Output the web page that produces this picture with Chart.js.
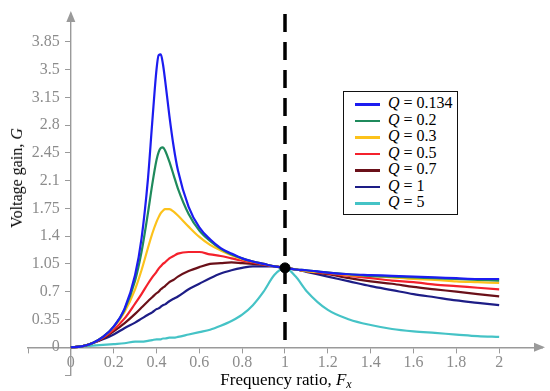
<!DOCTYPE html>
<html>
<head>
<meta charset="utf-8">
<script src="https://cdn.jsdelivr.net/npm/chart.js@4.4.1/dist/chart.umd.min.js"></script>
<style>
  body { margin: 0; background: #fff; }
  #wrap { position: relative; width: 550px; height: 391px; font-family: "Liberation Serif", serif; color: #000; }
  #xtitle { position: absolute; left: 286px; top: 370px; transform: translateX(-50%); white-space: nowrap; font-size: 17px; line-height: 20px; }
  #xtitle sub { font-size: 12px; line-height: 0; vertical-align: -3px; }
  #ytitle { position: absolute; left: 17px; top: 178px; transform: translate(-50%, -50%) rotate(-90deg); white-space: nowrap; font-size: 16px; line-height: 20px; }
  #legend { position: absolute; left: 343px; top: 91px; width: 113px; height: 119px; border: 1.5px solid #111; background: #fff; padding-top: 3px; }
  #legend .row { height: 16.5px; line-height: 16.5px; font-size: 16px; white-space: nowrap; }
  #legend .swatch { display: inline-block; width: 25px; height: 2.5px; margin-left: 11px; margin-right: 8px; vertical-align: middle; }
</style>
</head>
<body>
<div id="wrap">
  <canvas id="chart" width="550" height="391"></canvas>
  <div id="xtitle">Frequency ratio, <i>F<sub>x</sub></i></div>
  <div id="ytitle">Voltage gain, <i>G</i></div>
  <div id="legend"></div>
</div>
<script>
// frequency ratio samples (denser around the resonance peaks)
const fx = [0, 0.05, 0.1, 0.15, 0.2, 0.25, 0.3, 0.33, 0.36, 0.38, 0.4, 0.41, 0.42, 0.43, 0.44, 0.46, 0.48, 0.5,
  0.55, 0.6, 0.65, 0.7, 0.75, 0.8, 0.85, 0.9, 0.95, 1, 1.05, 1.1, 1.2, 1.3, 1.4, 1.5, 1.6, 1.7, 1.8, 1.9, 2];

// voltage gain for each quality factor
const gainQ0134 = [0, 0.01, 0.05, 0.13, 0.26, 0.48, 0.91, 1.37, 2.12, 2.83, 3.50, 3.68, 3.69, 3.57, 3.37, 2.92, 2.53, 2.23,
  1.77, 1.51, 1.36, 1.25, 1.18, 1.12, 1.08, 1.05, 1.02, 1.00, 0.98, 0.97, 0.94, 0.92, 0.91, 0.90, 0.89, 0.88, 0.87, 0.86, 0.86];
const gainQ02 = [0, 0.01, 0.05, 0.13, 0.26, 0.47, 0.84, 1.20, 1.69, 2.05, 2.36, 2.46, 2.51, 2.52, 2.48, 2.34, 2.17, 2.00,
  1.68, 1.47, 1.34, 1.24, 1.17, 1.12, 1.08, 1.05, 1.02, 1.00, 0.98, 0.97, 0.94, 0.92, 0.90, 0.89, 0.88, 0.87, 0.86, 0.85, 0.84];
const gainQ03 = [0, 0.01, 0.05, 0.13, 0.25, 0.44, 0.73, 0.97, 1.25, 1.43, 1.58, 1.64, 1.69, 1.72, 1.74, 1.74, 1.71, 1.66,
  1.52, 1.39, 1.29, 1.22, 1.16, 1.11, 1.08, 1.05, 1.02, 1.00, 0.98, 0.96, 0.94, 0.91, 0.90, 0.88, 0.86, 0.85, 0.83, 0.82, 0.81];
const gainQ05 = [0, 0.01, 0.05, 0.12, 0.22, 0.36, 0.55, 0.67, 0.80, 0.88, 0.95, 0.99, 1.02, 1.05, 1.07, 1.12, 1.15, 1.18,
  1.20, 1.20, 1.17, 1.15, 1.12, 1.09, 1.07, 1.04, 1.02, 1.00, 0.98, 0.96, 0.93, 0.90, 0.87, 0.84, 0.82, 0.79, 0.77, 0.75, 0.73];
const gainQ07 = [0, 0.01, 0.05, 0.11, 0.20, 0.30, 0.42, 0.50, 0.58, 0.63, 0.68, 0.70, 0.73, 0.75, 0.77, 0.82, 0.85, 0.89,
  0.96, 1.01, 1.05, 1.06, 1.07, 1.06, 1.05, 1.04, 1.02, 1.00, 0.98, 0.96, 0.92, 0.87, 0.83, 0.80, 0.76, 0.73, 0.70, 0.67, 0.64];
const gainQ1 = [0, 0.01, 0.05, 0.10, 0.16, 0.24, 0.31, 0.36, 0.41, 0.44, 0.48, 0.49, 0.51, 0.53, 0.54, 0.58, 0.61, 0.64,
  0.73, 0.80, 0.87, 0.93, 0.97, 1.00, 1.02, 1.02, 1.02, 1.00, 0.98, 0.95, 0.89, 0.83, 0.77, 0.72, 0.67, 0.63, 0.59, 0.56, 0.53];
const gainQ5 = [0, 0.01, 0.02, 0.03, 0.04, 0.05, 0.07, 0.07, 0.08, 0.09, 0.10, 0.10, 0.10, 0.11, 0.11, 0.12, 0.12, 0.13,
  0.16, 0.19, 0.22, 0.27, 0.33, 0.41, 0.53, 0.70, 0.91, 1.00, 0.89, 0.71, 0.47, 0.35, 0.28, 0.23, 0.20, 0.18, 0.16, 0.14, 0.13];

const qLabels = ['0.134', '0.2', '0.3', '0.5', '0.7', '1', '5'];
const qColors = ['#1c1cf0', '#1f8a5c', '#fcc21b', '#f4212c', '#6a1019', '#1d1d86', '#45c3c6'];
const gains = [gainQ0134, gainQ02, gainQ03, gainQ05, gainQ07, gainQ1, gainQ5];

// resonance point (Fx = 1, G = 1)
const resonanceFx = 1;
const resonanceGain = 1;

const xTicks = [0, 0.2, 0.4, 0.6, 0.8, 1, 1.2, 1.4, 1.6, 1.8, 2];
const yTicks = [0, 0.35, 0.7, 1.05, 1.4, 1.75, 2.1, 2.45, 2.8, 3.15, 3.5, 3.85];

const axisGray = '#9a9a9a';
const labelGray = '#8c8c8c';

const curveSets = gains.map((g, i) => ({
  label: 'Q = ' + qLabels[i],
  data: fx.map((x, k) => ({ x: x, y: g[k] })),
  borderColor: qColors[i],
  borderWidth: 2.2,
  pointRadius: 0,
  cubicInterpolationMode: 'monotone',
  order: 2 + i
}));

// arrow heads on the axes
const axisArrows = {
  id: 'axisArrows',
  afterDraw(chart) {
    const ctx = chart.ctx;
    const { right, top } = chart.chartArea;
    const x0 = chart.scales.x.getPixelForValue(0);
    const y0 = chart.scales.y.getPixelForValue(0);
    ctx.save();
    ctx.fillStyle = axisGray;
    ctx.beginPath();
    ctx.moveTo(right + 3, y0);
    ctx.lineTo(right - 8, y0 - 4.5);
    ctx.lineTo(right - 8, y0 + 4.5);
    ctx.closePath();
    ctx.fill();
    ctx.beginPath();
    ctx.moveTo(x0, top - 3);
    ctx.lineTo(x0 - 4.5, top + 8);
    ctx.lineTo(x0 + 4.5, top + 8);
    ctx.closePath();
    ctx.fill();
    ctx.restore();
  }
};

const tickFont = { family: 'Liberation Serif', size: 16 };

new Chart(document.getElementById('chart'), {
  type: 'line',
  data: {
    datasets: [
      {
        label: 'resonance',
        data: [{ x: resonanceFx, y: resonanceGain }],
        showLine: false,
        pointRadius: 5,
        pointBackgroundColor: '#000',
        pointBorderColor: '#000',
        order: 0
      },
      {
        label: 'Fx = 1',
        data: [{ x: resonanceFx, y: 4.2 }, { x: resonanceFx, y: 0 }],
        borderColor: '#000',
        borderWidth: 3.5,
        borderDash: [18, 10],
        pointRadius: 0,
        order: 1
      },
      ...curveSets
    ]
  },
  options: {
    responsive: false,
    animation: false,
    layout: { padding: { left: 28, right: 8, top: 14, bottom: 16 } },
    plugins: { legend: { display: false }, tooltip: { enabled: false } },
    scales: {
      x: {
        type: 'linear',
        min: -0.2,
        max: 2.2,
        position: { y: 0 },
        afterFit(s) { s.height = 0; },
        afterBuildTicks(s) { s.ticks = [-0.2].concat(xTicks).map(v => ({ value: v })); },
        ticks: {
          color: labelGray,
          font: tickFont,
          padding: 1,
          maxRotation: 0,
          autoSkip: false,
          callback: v => xTicks.includes(v) ? String(v) : ''
        },
        grid: { display: true, drawOnChartArea: false, drawTicks: true, tickLength: 5, color: axisGray },
        border: { display: true, color: axisGray, width: 1.4 }
      },
      y: {
        type: 'linear',
        min: -0.35,
        max: 4.2,
        position: { x: 0 },
        afterFit(s) { s.width = 0; },
        afterBuildTicks(s) { s.ticks = [-0.35].concat(yTicks).map(v => ({ value: v })); },
        ticks: {
          color: labelGray,
          font: tickFont,
          autoSkip: false,
          // labels sit right on the axis line for value-positioned axes, pad with spaces
          callback: v => yTicks.includes(v) ? String(v) + '\u2002\u2009' : ''
        },
        grid: { display: true, drawOnChartArea: false, drawTicks: true, tickLength: 5, color: axisGray },
        border: { display: true, color: axisGray, width: 1.4 }
      }
    }
  },
  plugins: [axisArrows]
});

// legend box built from the curve datasets
const legendEl = document.getElementById('legend');
qLabels.forEach((q, i) => {
  const row = document.createElement('div');
  row.className = 'row';
  row.innerHTML = '<span class="swatch" style="background:' + qColors[i] + '"></span><i>Q</i> = ' + q;
  legendEl.appendChild(row);
});
</script>
</body>
</html>
